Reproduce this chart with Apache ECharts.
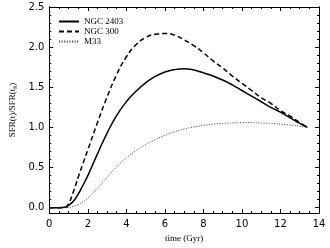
<!DOCTYPE html>
<html><head><meta charset="utf-8">
<script src="https://cdn.jsdelivr.net/npm/echarts@6/dist/echarts.min.js"></script>
<style>html,body{margin:0;padding:0;background:#fff}#c{width:330px;height:248px}</style>
</head><body><div id="c"></div>
<script>
var time = [0, 0.5, 0.8, 1.0, 1.25, 1.5, 1.75, 2.0, 2.5, 3.0, 3.5, 4.0, 4.5, 5.0, 5.5, 6.0, 6.5, 7.0, 7.5, 8.0, 8.5, 9.0, 9.5, 10.0, 10.5, 11.0, 11.5, 12.0, 12.5, 13.0, 13.4];
var ngc2403 = [0, 0, 0.005, 0.03, 0.08, 0.17, 0.28, 0.40, 0.67, 0.93, 1.15, 1.32, 1.45, 1.555, 1.635, 1.69, 1.72, 1.73, 1.715, 1.68, 1.64, 1.59, 1.53, 1.46, 1.39, 1.32, 1.25, 1.19, 1.12, 1.05, 1.0];
var ngc300 = [0, 0, 0.003, 0.05, 0.20, 0.38, 0.55, 0.72, 1.06, 1.38, 1.66, 1.88, 2.03, 2.12, 2.16, 2.17, 2.15, 2.09, 2.02, 1.93, 1.83, 1.74, 1.64, 1.55, 1.46, 1.37, 1.30, 1.21, 1.14, 1.06, 1.0];
var m33 = [0, 0, 0, 0.003, 0.015, 0.04, 0.075, 0.12, 0.24, 0.38, 0.51, 0.62, 0.71, 0.785, 0.85, 0.90, 0.945, 0.98, 1.005, 1.025, 1.04, 1.05, 1.055, 1.06, 1.06, 1.055, 1.05, 1.04, 1.03, 1.015, 1.0];
var yMajor = [0, 0.5, 1.0, 1.5, 2.0, 2.5];
var yMinor = [];
for (var i = 0; i <= 25; i++) { yMinor.push(i / 10); }
var names = ['NGC 2403', 'NGC 300', 'M33'];

function pairs(v) { return time.map(function (t, i) { return [t, v[i]]; }); }
var YMIN = -0.066, YMAX = 2.5;
function yAx(pos, vals, len, showLabel) {
  return {
    type: 'value', position: pos, min: YMIN, max: YMAX,
    axisLine: { show: true, onZero: false, lineStyle: { color: '#000', width: 1 } },
    axisTick: { show: true, inside: true, length: len, customValues: vals, lineStyle: { color: '#000', width: 1 } },
    axisLabel: { show: showLabel, customValues: yMajor, color: '#000', fontFamily: 'DejaVu Sans', fontSize: 10, margin: 5,
      formatter: function (v) { return v.toFixed(1); } },
    splitLine: { show: false }
  };
}
function xAx(pos, showLabel) {
  return {
    type: 'value', position: pos, min: 0, max: 14, interval: 2,
    axisLine: { show: true, onZero: false, lineStyle: { color: '#000', width: 1 } },
    axisTick: { show: true, inside: true, length: 4, lineStyle: { color: '#000' } },
    minorTick: { show: true, splitNumber: 4, length: 2, lineStyle: { color: '#000' } },
    axisLabel: { show: showLabel, color: '#000', fontFamily: 'DejaVu Sans', fontSize: 10, margin: 6 },
    splitLine: { show: false }
  };
}
var xb = xAx('bottom', true);
xb.name = 'time (Gyr)'; xb.nameLocation = 'middle'; xb.nameGap = 20;
xb.nameTextStyle = { fontFamily: 'Liberation Serif', fontSize: 9, color: '#000' };
var yl = yAx('left', yMajor, 4, true);
yl.name = 'SFR(t)/SFR(t{s|g})'; yl.nameLocation = 'middle'; yl.nameGap = 31; yl.nameRotate = 90;
yl.nameTextStyle = { fontFamily: 'Liberation Serif', fontSize: 9, color: '#000', rich: { s: { fontFamily: 'Liberation Serif', fontSize: 6, color: '#000', padding: [4, 0, 0, 0] } } };

var styles = [
  { type: 'solid', width: 1.5, color: '#000' },
  { type: [5, 3], width: 1.5, color: '#000' },
  { type: [1, 1.6], width: 1, color: '#333' }
];
var vals = [ngc2403, ngc300, m33];
var series = vals.map(function (v, i) {
  return { name: names[i], type: 'line', data: pairs(v), showSymbol: false, symbol: 'none', smooth: 0.5,
    xAxisIndex: 0, yAxisIndex: 0,
    lineStyle: { color: styles[i].color, width: styles[i].width, type: styles[i].type }, itemStyle: { color: styles[i].color } };
});

var chart = echarts.init(document.getElementById('c'), null, { renderer: 'canvas' });
chart.setOption({
  animation: false,
  grid: { left: 46, right: 11, top: 7, bottom: 35, containLabel: false },
  xAxis: [xb, xAx('top', false)],
  yAxis: [yl, yAx('left', yMinor, 2, false), yAx('right', yMajor, 4, false), yAx('right', yMinor, 2, false)],
  legend: { orient: 'vertical', left: 53, top: 12, itemWidth: 20, itemHeight: 8, itemGap: 1,
    data: names, itemStyle: { opacity: 0 },
    textStyle: { fontFamily: 'Liberation Serif', fontSize: 9, color: '#000' } },
  series: series
});
</script></body></html>
